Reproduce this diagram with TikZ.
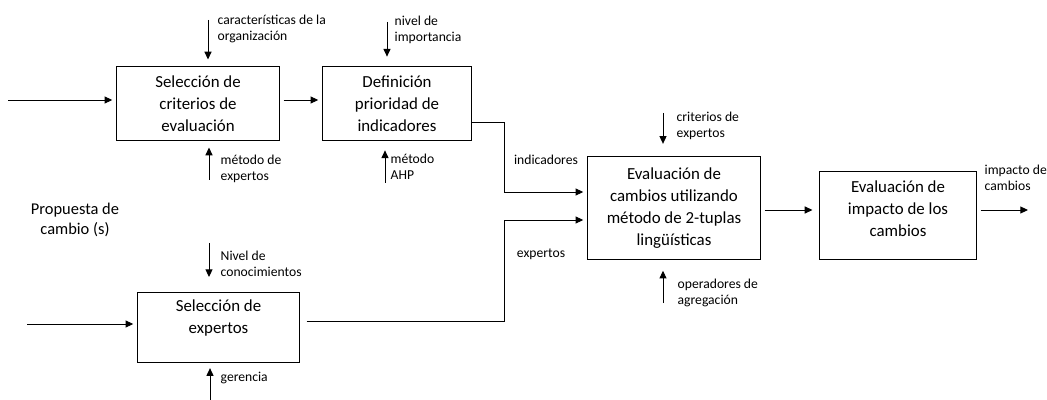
\documentclass[tikz,border=0pt]{standalone}
\usepackage{fontspec}
\setmainfont{Carlito}
\usetikzlibrary{arrows.meta,positioning,calc}

\begin{document}
\begin{tikzpicture}[x=0.025cm,y=-0.025cm,
  box/.style={draw, line width=0.7pt, align=center, font=\fontsize{12}{15.5}\selectfont, inner sep=2pt},
  flow/.style={-{Triangle[length=5.5pt,width=5pt]}, line width=0.7pt},
  note/.style={anchor=west, align=left, font=\fontsize{9.7}{11.6}\selectfont, inner sep=1pt}]
  \useasboundingbox (0,0) rectangle (1047,400);

  % process boxes
  \node[box, minimum width=4.05cm, minimum height=1.825cm] (crit) at (198,103.5) {Selección de\\criterios de\\evaluación};
  \node[box, minimum width=3.7cm, minimum height=1.825cm] (prio) at (397,103.5) {Definición\\prioridad de\\indicadores};
  \node[box, minimum width=4.3cm, minimum height=2.55cm] (eval) at (674,208) {Evaluación de\\cambios utilizando\\método de 2-tuplas\\lingüísticas};
  \node[box, minimum width=3.9cm, minimum height=2.175cm, text depth=10pt] (imp) at (898,215.5) {Evaluación de\\impacto de los\\cambios};
  \node[box, minimum width=4.025cm, minimum height=1.725cm, text depth=16pt] (exp) at (218.5,327.5) {Selección de\\expertos};

  \node[align=center, font=\fontsize{11.7}{14}\selectfont] (prop) at (75,220) {Propuesta de\\cambio (s)};

  % inputs
  \coordinate (inA) at (8,100);
  \coordinate (inE) at (27,324);
  \draw[flow, shorten >=3pt] (inA) -- (inA -| crit.west);
  \draw[flow, shorten >=3pt] (inE) -- (inE -| exp.west);

  % controls and mechanisms
  \coordinate (cA) at (208,20);
  \coordinate (mA) at (209,180);
  \coordinate (cB) at (387,22);
  \coordinate (mB) at (385,183);
  \coordinate (cC) at (663,113);
  \coordinate (mC) at (663,303);
  \coordinate (cE) at (209,243);
  \coordinate (mE) at (210,400);
  \draw[flow, shorten >=5pt] (cA) -- (cA |- crit.north);
  \draw[flow, shorten >=5pt] (mA) -- (mA |- crit.south);
  \draw[flow, shorten >=7pt] (cB) -- (cB |- prio.north);
  \draw[flow, shorten >=7pt] (mB) -- (mB |- prio.south);
  \draw[flow, shorten >=9pt] (cC) -- (cC |- eval.north);
  \draw[flow, shorten >=8pt] (mC) -- (mC |- eval.south);
  \draw[flow, shorten >=11pt] (cE) -- (cE |- exp.north);
  \draw[flow, shorten >=4pt] (mE) -- (mE |- exp.south);

  \node[note] (lcA) at (216,29) {características de la\\organización};
  \node[note] (lmA) at (219,169) {método de\\expertos};
  \node[note] (lcB) at (393,30) {nivel de\\importancia};
  \node[note] (lmB) at (389,167) {método\\AHP};
  \node[note] (lcC) at (675,126) {criterios de\\expertos};
  \node[note] (lmC) at (676,293) {operadores de\\agregación};
  \node[note] (lcE) at (219,264) {Nivel de\\conocimientos};
  \node[note] (lmE) at (219,378) {gerencia};

  % flows between boxes
  \draw[flow, shorten <=3pt, shorten >=3pt] (crit.east |- 0,100) -- (prio.west |- 0,100);
  \draw[flow, shorten >=3pt] (prio.east |- 0,122) -| (504,192) -- (eval.west |- 0,192);
  \draw[flow, shorten <=5pt, shorten >=3pt] (exp.east |- 0,321) -| (504,220) -- (eval.west |- 0,220);
  \draw[flow, shorten <=3pt, shorten >=5pt] (eval.east |- 0,210) -- (imp.west |- 0,210);
  \coordinate (out) at (1028,210);
  \draw[flow, shorten <=3pt] (imp.east |- out) -- (out);

  \node[note, anchor=center] (lind) at (546,160) {indicadores};
  \node[note, anchor=center] (lexp) at (541,254) {expertos};
  \node[note] (lout) at (983,178) {impacto de\\cambios};
\end{tikzpicture}
\end{document}
